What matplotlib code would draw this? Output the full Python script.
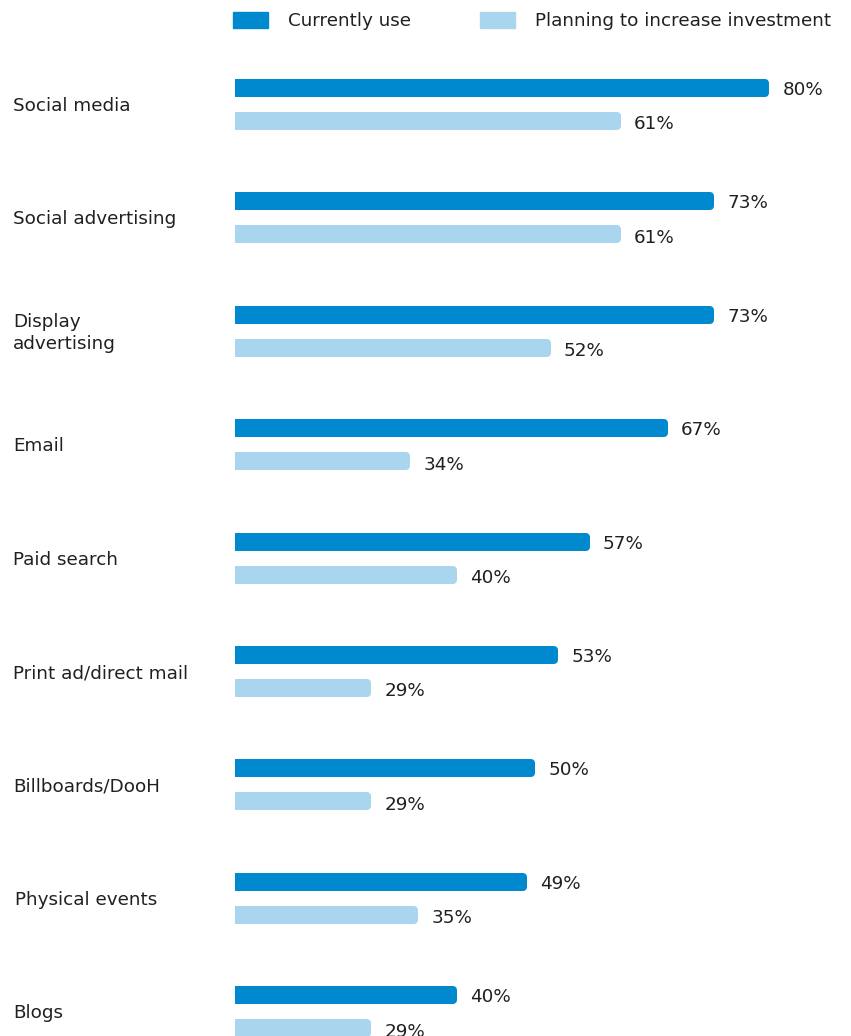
import matplotlib.pyplot as plt
from matplotlib.patches import Patch
from matplotlib.transforms import blended_transform_factory

# Données
categories = ['Social media', 'Social advertising', 'Display\nadvertising', 'Email',
              'Paid search', 'Print ad/direct mail', 'Billboards/DooH',
              'Physical events', 'Blogs']
currently_use = [80, 73, 73, 67, 57, 53, 50, 49, 40]
planning = [61, 61, 52, 34, 40, 29, 29, 35, 29]
series_names = ['Currently use', 'Planning to increase investment']

dark = '#0089CF'
light = '#A9D6EE'
txt = '#231F20'

plt.rcParams['font.family'] = ['DejaVu Sans']
fs = 13.2

W, H = 851, 1036
fig = plt.figure(figsize=(W / 100, H / 100), dpi=100, facecolor='white')
ax = fig.add_axes([235 / W, 0, (W - 235) / W, 1])

# pixel -> data : 7.8 px par point, groupes espacés de 113.4 px
ax.set_xlim((235 - 141) / 7.8, (W - 141) / 7.8)
ax.set_ylim((H - 88) / 113.4, -88 / 113.4)

stroke = 8 * 72 / 100  # épaisseur du contour en points (coins arrondis)
h = 10 / 113.4
off = 33 / 113.4
ys = list(range(len(categories)))

ax.barh(ys, currently_use, height=h, color=dark, edgecolor=dark,
        linewidth=stroke, joinstyle='round')
ax.barh([y + off for y in ys], planning, height=h, color=light, edgecolor=light,
        linewidth=stroke, joinstyle='round')

for y, a, b in zip(ys, currently_use, planning):
    ax.annotate(f'{a}%', (a, y), xytext=(12.5, -1.5), textcoords='offset points',
                va='center', ha='left', fontsize=fs, color=txt)
    ax.annotate(f'{b}%', (b, y + off), xytext=(12.5, -2.5), textcoords='offset points',
                va='center', ha='left', fontsize=fs, color=txt)

# Libellés des catégories
trans = blended_transform_factory(fig.transFigure, ax.transData)
for y, cat in zip(ys, categories):
    x = 15 / W if cat == 'Physical events' else 13 / W
    ax.text(x, y + off / 2 + 1.5 / 113.4, cat, transform=trans, ha='left', va='center',
            fontsize=fs, color=txt, linespacing=1.32, clip_on=False)

ax.axis('off')

handles = [Patch(color=dark), Patch(color=light)]
fig.legend(handles, series_names, loc='upper left', bbox_to_anchor=(218 / W, 1 + 3 / H),
           ncol=2, frameon=False, fontsize=fs, handlelength=1.91, handleheight=0.98,
           handletextpad=1.09, columnspacing=3.8, labelcolor=txt, borderpad=0.3)

fig.savefig('out.png', dpi=100, facecolor='white')
